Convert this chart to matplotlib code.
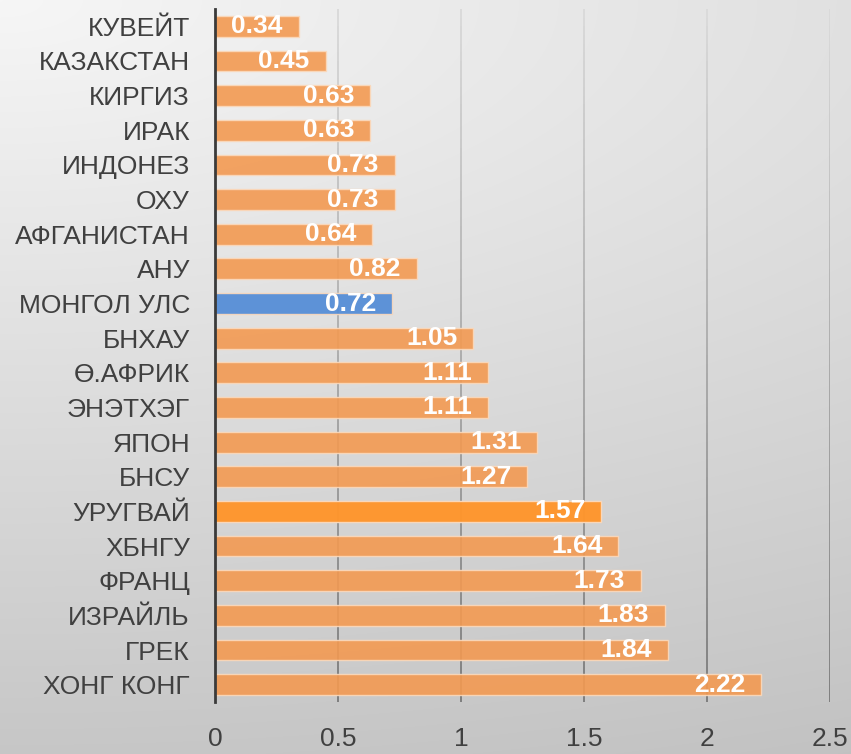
import numpy as np
import matplotlib
matplotlib.use("Agg")
import matplotlib.pyplot as plt
from matplotlib.collections import LineCollection

countries = ["КУВЕЙТ", "КАЗАКСТАН", "КИРГИЗ", "ИРАК", "ИНДОНЕЗ", "ОХУ",
             "АФГАНИСТАН", "АНУ", "МОНГОЛ УЛС", "БНХАУ", "Ө.АФРИК", "ЭНЭТХЭГ",
             "ЯПОН", "БНСУ", "УРУГВАЙ", "ХБНГУ", "ФРАНЦ", "ИЗРАЙЛЬ", "ГРЕК",
             "ХОНГ КОНГ"]
values = [0.34, 0.45, 0.63, 0.63, 0.73, 0.73, 0.64, 0.82, 0.72, 1.05, 1.11,
          1.11, 1.31, 1.27, 1.57, 1.64, 1.73, 1.83, 1.84, 2.22]
value_labels = ["0.34", "0.45", "0.63", "0.63", "0.73", "0.73", "0.64", "0.82",
                "0.72", "1.05", "1.11", "1.11", "1.31", "1.27", "1.57", "1.64",
                "1.73", "1.83", "1.84", "2.22"]
xticks = [0, 0.5, 1, 1.5, 2, 2.5]
xtick_labels = ["0", "0.5", "1", "1.5", "2", "2.5"]

plt.rcParams['font.family'] = ['Liberation Sans', 'DejaVu Sans']

W, H = 851, 754
fig = plt.figure(figsize=(W / 100, H / 100), dpi=100)

# background gradient (radial from top-left)
bg = fig.add_axes([0, 0, 1, 1], zorder=-10)
yy, xx = np.mgrid[0:H, 0:W]
d = np.sqrt((xx / W * 0.45) ** 2 + (yy / H) ** 2) / np.sqrt(0.45 ** 2 + 1)
g = 0.965 - 0.205 * d
img = np.dstack([g, g, g])
bg.imshow(img, aspect='auto', extent=[0, 1, 0, 1], interpolation='bilinear')
bg.axis('off')

ax = fig.add_axes([215 / W, 1 - 702 / H, 615 / W, 693 / H])
ax.set_facecolor('none')

base = '#F39A52'
colors = [base] * len(values)
colors[countries.index("МОНГОЛ УЛС")] = '#4F8AD6'
colors[countries.index("УРУГВАЙ")] = '#FF952C'
alphas = [0.9] * len(values)
alphas[countries.index("УРУГВАЙ")] = 0.97

y = np.arange(len(countries))
bars = ax.barh(y, values, height=0.6, color=colors, edgecolor='#FBD9BC',
               linewidth=1.0, zorder=3)
for b, a in zip(bars, alphas):
    b.set_alpha(a)

for yi, v, lab in zip(y, values, value_labels):
    ax.annotate(lab, xy=(v, yi), xytext=(-11.5, 0), textcoords='offset points',
                ha='right', va='center', color='white', fontsize=19,
                fontweight='bold', zorder=5)

ax.set_xlim(0, 2.5)
ax.set_ylim(19.5, -0.5)
ax.set_yticks(y)
ax.set_yticklabels(countries, fontsize=19, color='#404040')
ax.set_xticks(xticks)
ax.set_xticklabels(xtick_labels, fontsize=19, color='#404040')
ax.tick_params(axis='y', length=0, pad=18)
ax.tick_params(axis='x', length=0, pad=18)

# gradient gridlines
nseg = 80
ys = np.linspace(-0.5, 19.5, nseg + 1)
segs, cols = [], []
for xt in xticks[1:]:
    for i in range(nseg):
        segs.append([(xt, ys[i]), (xt, ys[i + 1])])
        t = (ys[i] + 0.5) / 20.0
        c = 0.85 - 0.38 * t
        cols.append((c, c, c))
lc = LineCollection(segs, colors=cols, linewidths=1.3, zorder=1)
ax.add_collection(lc)

for s in ['top', 'right', 'bottom']:
    ax.spines[s].set_visible(False)
ax.spines['left'].set_color('#3a3a3a')
ax.spines['left'].set_linewidth(2.0)
ax.spines['left'].set_zorder(6)

fig.savefig('out.png', dpi=100)
